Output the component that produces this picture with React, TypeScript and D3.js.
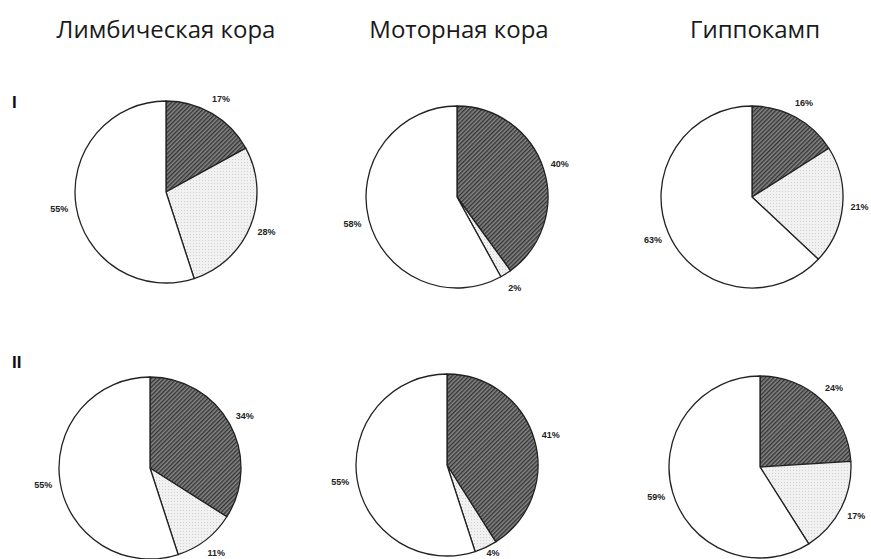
import { useEffect, useRef } from "react";
import * as d3 from "d3";

// column / row titles
const regions = ["Лимбическая кора", "Моторная кора", "Гиппокамп"];
const rowLabels = ["I", "II"];
const sliceKeys = ["dark", "light", "white"];

// percentages per pie, clockwise from 12 o'clock: dark, light, white
const rowI = [
  [17, 28, 55],
  [40, 2, 58],
  [16, 21, 63],
];
const rowII = [
  [34, 11, 55],
  [41, 4, 55],
  [24, 17, 59],
];

const W = 871;
const H = 559;
const R = 91;
// pie centres as measured on the page
const centres = [
  [[166, 192], [457, 197], [752, 197]],
  [[150, 468], [447, 465], [760, 467]],
];
const titleX = [166, 459, 755];

export default function App() {
  const svgRef = useRef<SVGSVGElement>(null);

  useEffect(() => {
    const svg = d3.select(svgRef.current);
    svg.selectAll("*").remove();

    const defs = svg.append("defs");
    const hatch = defs
      .append("pattern")
      .attr("id", "hatch")
      .attr("patternUnits", "userSpaceOnUse")
      .attr("width", 3)
      .attr("height", 3)
      .attr("patternTransform", "rotate(-45)");
    hatch.append("rect").attr("width", 3).attr("height", 3).attr("fill", "#858585");
    hatch.append("rect").attr("width", 3).attr("height", 1.4).attr("fill", "#353535");

    const dots = defs
      .append("pattern")
      .attr("id", "dots")
      .attr("patternUnits", "userSpaceOnUse")
      .attr("width", 3)
      .attr("height", 3);
    dots.append("rect").attr("width", 3).attr("height", 3).attr("fill", "#f1f1f1");
    dots.append("rect").attr("width", 1).attr("height", 1).attr("fill", "#d2d2d2");

    const fills: Record<string, string> = {
      dark: "url(#hatch)",
      light: "url(#dots)",
      white: "#ffffff",
    };

    // titles
    svg
      .selectAll(".title")
      .data(regions)
      .join("text")
      .attr("class", "title")
      .attr("x", (d, i) => titleX[i])
      .attr("y", 38)
      .attr("text-anchor", "middle")
      .style("font-family", "'Open Sans', 'DejaVu Sans', sans-serif")
      .style("font-size", "24px")
      .style("font-weight", 400)
      .attr("fill", "#1a1a1a")
      .text(d => d);

    // row numerals
    svg
      .selectAll(".row")
      .data(rowLabels)
      .join("text")
      .attr("class", "row")
      .attr("x", 12)
      .attr("y", (d, i) => (i === 0 ? 108 : 368))
      .style("font-family", "'Liberation Sans', Arial, sans-serif")
      .style("font-size", "17px")
      .style("font-weight", 700)
      .attr("fill", "#111")
      .text(d => d);

    const pie = d3.pie<number>().sort(null).value(d => d);
    const arc = d3.arc<d3.PieArcDatum<number>>().innerRadius(0).outerRadius(R);
    const labelArc = d3.arc<d3.PieArcDatum<number>>().innerRadius(R + 17).outerRadius(R + 17);

    [rowI, rowII].forEach((row, ri) => {
      row.forEach((values, ci) => {
        const [cx, cy] = centres[ri][ci];
        const g = svg.append("g").attr("transform", `translate(${cx},${cy})`);
        const arcs = pie(values);

        g.selectAll("path")
          .data(arcs)
          .join("path")
          .attr("d", arc)
          .attr("fill", (d, i) => fills[sliceKeys[i]])
          .attr("stroke", "#222")
          .attr("stroke-width", 1.3)
          .attr("stroke-linejoin", "round");

        g.selectAll("text")
          .data(arcs)
          .join("text")
          .attr("transform", d => {
            const [x, y] = labelArc.centroid(d);
            // keep labels near the bottom edge inside the picture
            return `translate(${x},${Math.min(y, H - cy - 6)})`;
          })
          .attr("text-anchor", "middle")
          .attr("dy", "0.35em")
          .style("font-family", "'Liberation Sans', Arial, sans-serif")
          .style("font-size", "9px")
          .style("font-weight", 700)
          .attr("fill", "#222")
          .text(d => `${d.data}%`);
      });
    });
  }, []);

  return (
    <svg
      ref={svgRef}
      width={W}
      height={H}
      style={{ position: "absolute", left: 0, top: 0, background: "#fff" }}
    />
  );
}
